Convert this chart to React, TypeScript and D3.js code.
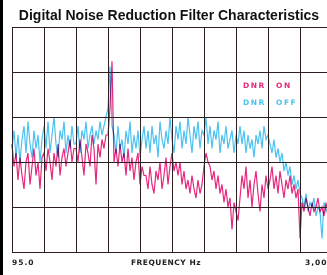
import React, { useEffect, useRef } from 'react';
import { select, scaleLinear, line, range } from 'd3';

// levels in dB, one sample every 2 px of the original plot
const dnrOff = [
  -27, -23, -29, -24, -30, -25, -22, -28, -21, -26, -29, -23, -27, -24, -30, -25,
  -22, -27, -21, -28, -24, -20, -26, -29, -23, -25, -21, -28, -24, -27, -22, -26,
  -26, -22, -28, -23, -25, -21, -27, -24, -22, -26, -23, -25, -21, -24, -22, -20,
  -18, -8.8, -22,
  -24, -28, -22, -27, -25, -29, -23, -26, -21, -28, -24, -27, -23, -29, -25, -22,
  -27, -23, -28, -22, -26, -24, -29, -21, -25, -27, -23, -26, -20, -25, -28, -22,
  -25, -21, -27, -23, -26, -20, -24, -28, -22, -25, -21, -27, -23, -24, -20, -26,
  -22, -27, -23, -25, -21, -28, -24, -26, -22, -27, -25, -23, -28, -24, -26, -22,
  -26, -23, -28, -24, -27, -25, -29, -24, -26, -23, -27, -22, -25, -24,
  -26, -28, -25, -29, -27, -30, -28, -32, -30, -33, -31, -35, -33, -36, -34, -37,
  -38, -40, -37, -41, -39, -40, -38, -42, -40, -41, -47, -39, -41, -40, -42,
];

const dnrOn = [
  -26, -31, -28, -34, -29, -33, -36, -30, -28, -35, -31, -27, -33, -30, -36, -29,
  -28, -32, -27, -30, -34, -28, -31, -26, -33, -29, -27, -31, -28, -25, -30, -27,
  -27, -30, -25, -29, -33, -26, -28, -31, -24, -27, -35, -26, -29, -25, -27, -24,
  -24, -18, -7.6,
  -30, -27, -31, -26, -30, -28, -33, -27, -32, -29, -34, -30, -28, -35, -31, -33,
  -33, -36, -31, -35, -37, -32, -34, -30, -36, -33, -29, -35, -31, -28, -32, -30,
  -33, -30, -35, -32, -36, -34, -37, -33, -36, -38, -34, -37, -35, -31, -28, -30,
  -31, -34, -32, -36, -33, -37, -35, -39, -36, -40, -38, -45, -39, -41, -43, -38,
  -33, -36, -31, -38, -34, -40, -35, -32, -37, -41, -35, -38, -33, -36,
  -34, -31, -36, -33, -37, -32, -35, -38, -34, -36, -33, -37, -35, -38, -36, -47,
  -39, -41, -38, -40, -42, -39, -41, -40, -38, -41, -40, -42, -39, -41, -40,
];

const xTickLabels = ['95.0', '3,000'];
const xTitle = 'FREQUENCY Hz';
const legendLabels = [['DNR', 'ON'], ['DNR', 'OFF']];
const title = 'Digital Noise Reduction Filter Characteristics';

const W = 327, H = 275;

const App = () => {
  const svgRef = useRef<SVGSVGElement>(null);

  useEffect(() => {
    const svg = select(svgRef.current);
    svg.selectAll('*').remove();

    const x = scaleLinear().domain([0, 160]).range([12, 332]);
    const y = scaleLinear().domain([-50, 0]).range([252, 27]);

    svg.append('rect').attr('width', W).attr('height', H).attr('fill', '#fff');
    svg.append('rect').attr('width', 3).attr('height', H).attr('fill', '#000');

    svg.append('text')
      .attr('x', 169).attr('y', 20)
      .attr('text-anchor', 'middle')
      .style('font-family', 'Liberation Sans, Arial, sans-serif')
      .style('font-weight', 'bold')
      .style('font-size', '14px')
      .attr('fill', '#111')
      .text(title);

    // data
    const drawLine = line<number>()
      .x((d, i) => x(i))
      .y(d => y(d));

    const g = svg.append('g');
    g.append('path')
      .datum(dnrOn)
      .attr('d', drawLine)
      .attr('fill', 'none')
      .attr('stroke', '#e6297e')
      .attr('stroke-width', 1.2)
      .style('mix-blend-mode', 'multiply');
    g.append('path')
      .datum(dnrOff)
      .attr('d', drawLine)
      .attr('fill', 'none')
      .attr('stroke', '#4cc2f0')
      .attr('stroke-width', 1.2)
      .style('mix-blend-mode', 'multiply');

    // grid
    const grid = svg.append('g').attr('stroke', '#2e2020').attr('stroke-width', 1);
    grid.selectAll('line.v')
      .data(range(0, 161, 16))
      .enter().append('line')
      .attr('class', 'v')
      .attr('x1', d => x(d) + 0.5).attr('x2', d => x(d) + 0.5)
      .attr('y1', y(0)).attr('y2', y(-50));
    grid.selectAll('line.h')
      .data(range(-50, 1, 10))
      .enter().append('line')
      .attr('class', 'h')
      .attr('x1', x(0)).attr('x2', x(160))
      .attr('y1', d => Math.round(y(d)) + 0.5).attr('y2', d => Math.round(y(d)) + 0.5);

    const small = (sel: any) => sel
      .style('font-family', 'DejaVu Sans, sans-serif')
      .style('font-weight', 'bold')
      .style('font-size', '7.5px')
      .style('letter-spacing', '1px');

    svg.append('text').call(small)
      .attr('x', 12).attr('y', 265).attr('fill', '#222').text(xTickLabels[0]);
    svg.append('text').call(small)
      .attr('x', 305).attr('y', 265).attr('fill', '#222').text(xTickLabels[1]);
    svg.append('text').call(small)
      .attr('x', 166).attr('y', 265).attr('text-anchor', 'middle')
      .attr('fill', '#222').style('letter-spacing', '0.5px').text(xTitle);

    const legendColors = ['#e6297e', '#4cc2f0'];
    legendLabels.forEach((pair, i) => {
      svg.append('text').call(small)
        .attr('x', 243).attr('y', 88 + i * 17).attr('fill', legendColors[i])
        .style('letter-spacing', '1.5px').text(pair[0]);
      svg.append('text').call(small)
        .attr('x', 276).attr('y', 88 + i * 17).attr('fill', legendColors[i])
        .style('letter-spacing', '1.5px').text(pair[1]);
    });
  }, []);

  return (
    <svg
      ref={svgRef}
      width={W}
      height={H}
      style={{ position: 'absolute', left: 0, top: 0, display: 'block' }}
    />
  );
};

export default App;
